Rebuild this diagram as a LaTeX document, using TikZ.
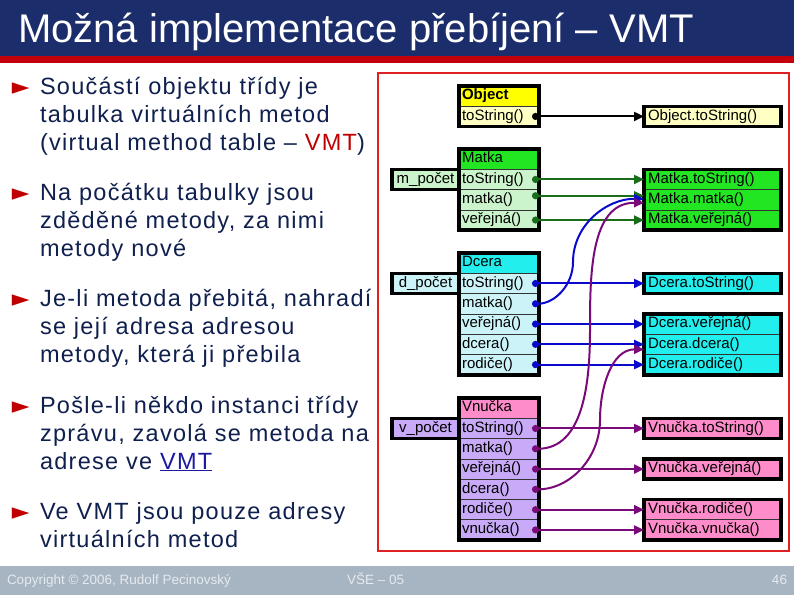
\documentclass[tikz,border=0pt]{standalone}
\usepackage{fontspec}
\setmainfont{Liberation Sans}
\newfontfamily\bodyfont[LetterSpace=5.5]{Liberation Sans}
\newfontfamily\symbfont{DejaVu Sans}
\usetikzlibrary{arrows.meta,positioning}

\definecolor{barblue}{HTML}{1C2D6B}
\definecolor{barred}{HTML}{C4000C}
\definecolor{footgray}{HTML}{A7B4C2}
\definecolor{foottext}{HTML}{E6EBF0}
\definecolor{navytext}{HTML}{10204E}
\definecolor{vmtred}{HTML}{C00000}
\definecolor{linkblue}{HTML}{1A1AA0}
\definecolor{framered}{HTML}{E02020}
\definecolor{objhd}{HTML}{FFFF00}
\definecolor{objrow}{HTML}{FFFFC4}
\definecolor{matkahd}{HTML}{22E622}
\definecolor{matkarow}{HTML}{CCF4CC}
\definecolor{dcerahd}{HTML}{22EEEE}
\definecolor{dcerarow}{HTML}{CCF4F8}
\definecolor{vnuckahd}{HTML}{FF8CCA}
\definecolor{vnuckarow}{HTML}{C8AAF8}
\definecolor{arrgreen}{HTML}{1A6E1A}
\definecolor{arrblue}{HTML}{0A0ACC}
\definecolor{arrpurple}{HTML}{7A0A7A}

\newcommand\rowfont{\fontsize{15}{15}\selectfont}

\begin{document}
\begin{tikzpicture}[
    x=1pt, y=-1pt,
    every node/.style={inner sep=0pt, outer sep=0pt},
    hdr/.style={
        draw=black!80,
        line width=0.8pt,
        anchor=north west,
        minimum height=20.3pt,
        text width=74pt,
        inner xsep=3pt,
        align=left,
        text height=11pt,
        text depth=3.5pt,
        font=\rowfont
    },
    row/.style={hdr},
    impl/.style={hdr, text width=129pt, inner xsep=4pt},
    counter/.style={hdr, text width=61pt, align=center},
    outline/.style={draw=black, line width=3.5pt},
    link/.style={
        line width=2pt,
        draw=#1,
        {Circle[length=7pt,fill=#1]}-{Triangle[length=10pt,width=9pt,fill=#1]}
    },
    bullet/.style={anchor=base west, text=vmtred, font=\symbfont\fontsize{23}{28}\selectfont},
    point/.style={anchor=base west, align=left, text=navytext,
        font=\bodyfont\fontsize{23.5}{28}\selectfont},
    foot/.style={anchor=base west, text=foottext, font=\fontsize{13.5}{14}\selectfont}
]
\useasboundingbox (0,0) rectangle (794,595);

% title bar and footer
\fill[barblue] (0,0) rectangle (794,56);
\fill[barred] (0,56) rectangle (794,63);
\node[anchor=base west, text=white, font=\fontsize{40}{40}\selectfont] (title) at (18,42)
    {Možná implementace přebíjení – VMT};
\fill[footgray] (0,566) rectangle (794,595);
\node[foot] (copy) at (7,584) {Copyright © 2006, Rudolf Pecinovský};
\node[foot] (course) at (347,584) {VŠE – 05};
\node[foot, anchor=base east] (page) at (787,584) {46};

% bullets (text nodes sit on their last baseline)
\node[bullet] (m1) at (12,94) {►};
\node[point] (p1) at (40,150) {Součástí objektu třídy je\\tabulka virtuálních metod\\(virtual method table – {\color{vmtred}VMT})};
\node[bullet] (m2) at (12,200) {►};
\node[point] (p2) at (40,256) {Na počátku tabulky jsou\\zděděné metody, za nimi\\metody nové};
\node[bullet] (m3) at (12,306) {►};
\node[point] (p3) at (40,362) {Je-li metoda přebitá, nahradí\\se její adresa adresou\\metody, která ji přebila};
\node[bullet] (m4) at (12,413) {►};
\node[point] (p4) at (40,469) {Pošle-li někdo instanci třídy\\zprávu, zavolá se metoda na\\adrese ve {\color{linkblue}\underline{VMT}}};
\node[bullet] (m5) at (12,519) {►};
\node[point] (p5) at (40,547) {Ve VMT jsou pouze adresy\\virtuálních metod};

\draw[framered, line width=2pt] (378,73) rectangle (789,551);

% Object
\node[hdr, fill=objhd, font=\rowfont\bfseries] (o0) at (459,86) {Object};
\node[row, fill=objrow, below=0pt of o0] (o1) {toString()};
\node[impl, fill=objrow, right=105pt of o1] (oi1) {Object.toString()};

% Matka
\node[hdr, fill=matkahd] (a0) at (459,149) {Matka};
\foreach \meth [count=\i] in {toString(), matka(), veřejná()} {
    \pgfmathtruncatemacro\prev{\i-1}
    \node[row, fill=matkarow, below=0pt of a\prev] (a\i) {\meth};
}
\node[counter, fill=matkarow, left=0pt of a1] (ac) {m\_počet};
\node[impl, fill=matkahd, right=105pt of a1] (ai1) {Matka.toString()};
\node[impl, fill=matkahd, right=105pt of a2] (ai2) {Matka.matka()};
\node[impl, fill=matkahd, right=105pt of a3] (ai3) {Matka.veřejná()};

% Dcera
\node[hdr, fill=dcerahd] (d0) at (459,253) {Dcera};
\foreach \meth [count=\i] in {toString(), matka(), veřejná(), dcera(), rodiče()} {
    \pgfmathtruncatemacro\prev{\i-1}
    \node[row, fill=dcerarow, below=0pt of d\prev] (d\i) {\meth};
}
\node[counter, fill=dcerarow, left=0pt of d1] (dc) {d\_počet};
\node[impl, fill=dcerahd, right=105pt of d1] (di1) {Dcera.toString()};
\node[impl, fill=dcerahd, right=105pt of d3] (di3) {Dcera.veřejná()};
\node[impl, fill=dcerahd, right=105pt of d4] (di4) {Dcera.dcera()};
\node[impl, fill=dcerahd, right=105pt of d5] (di5) {Dcera.rodiče()};

% Vnucka
\node[hdr, fill=vnuckahd] (v0) at (459,398) {Vnučka};
\foreach \meth [count=\i] in {toString(), matka(), veřejná(), dcera(), rodiče(), vnučka()} {
    \pgfmathtruncatemacro\prev{\i-1}
    \node[row, fill=vnuckarow, below=0pt of v\prev] (v\i) {\meth};
}
\node[counter, fill=vnuckarow, left=0pt of v1] (vc) {v\_počet};
\node[impl, fill=vnuckahd, right=105pt of v1] (vi1) {Vnučka.toString()};
\node[impl, fill=vnuckahd, right=105pt of v3] (vi3) {Vnučka.veřejná()};
\node[impl, fill=vnuckahd, right=105pt of v5] (vi5) {Vnučka.rodiče()};
\node[impl, fill=vnuckahd, right=105pt of v6] (vi6) {Vnučka.vnučka()};

% thick outlines
\draw[outline] (o0.north west) rectangle (o1.south east);
\draw[outline] (oi1.north west) rectangle (oi1.south east);
\draw[outline] (a0.north west) rectangle (a3.south east);
\draw[outline] (ac.north west) rectangle (ac.south east);
\draw[outline] (ai1.north west) rectangle (ai3.south east);
\draw[outline] (d0.north west) rectangle (d5.south east);
\draw[outline] (dc.north west) rectangle (dc.south east);
\draw[outline] (di1.north west) rectangle (di1.south east);
\draw[outline] (di3.north west) rectangle (di5.south east);
\draw[outline] (v0.north west) rectangle (v6.south east);
\draw[outline] (vc.north west) rectangle (vc.south east);
\draw[outline] (vi1.north west) rectangle (vi1.south east);
\draw[outline] (vi3.north west) rectangle (vi3.south east);
\draw[outline] (vi5.north west) rectangle (vi6.south east);

% pointers
\coordinate (kb) at (573,262);
\coordinate (kp1) at (590,330);
\coordinate (kp2) at (600,420);

\draw[link=black] ([xshift=-7pt]o1.east) -- (oi1.west);

\draw[link=arrgreen] ([xshift=-7pt]a1.east) -- (ai1.west);
\draw[link=arrgreen] ([xshift=-7pt,yshift=4pt]a2.east) -- ([yshift=4pt]ai2.west);
\draw[link=arrgreen] ([xshift=-7pt]a3.east) -- (ai3.west);

\draw[link=arrblue] ([xshift=-7pt]d1.east) -- (di1.west);
\draw[link=arrblue] ([xshift=-7pt]d2.east) to[out=0,in=-90] (kb) to[out=90,in=180] ([yshift=1pt]ai2.west);
\draw[link=arrblue] ([xshift=-7pt]d3.east) -- (di3.west);
\draw[link=arrblue] ([xshift=-7pt]d4.east) -- (di4.west);
\draw[link=arrblue] ([xshift=-7pt]d5.east) -- (di5.west);

\draw[link=arrpurple] ([xshift=-7pt]v1.east) -- (vi1.west);
\draw[link=arrpurple] ([xshift=-7pt]v2.east) to[out=0,in=-90] (kp1) to[out=90,in=180] ([yshift=-3pt]ai2.west);
\draw[link=arrpurple] ([xshift=-7pt]v3.east) -- (vi3.west);
\draw[link=arrpurple] ([xshift=-7pt]v4.east) to[out=0,in=-90] (kp2) to[out=90,in=180] ([yshift=-5pt]di4.west);
\draw[link=arrpurple] ([xshift=-7pt]v5.east) -- (vi5.west);
\draw[link=arrpurple] ([xshift=-7pt]v6.east) -- (vi6.west);
\end{tikzpicture}
\end{document}
